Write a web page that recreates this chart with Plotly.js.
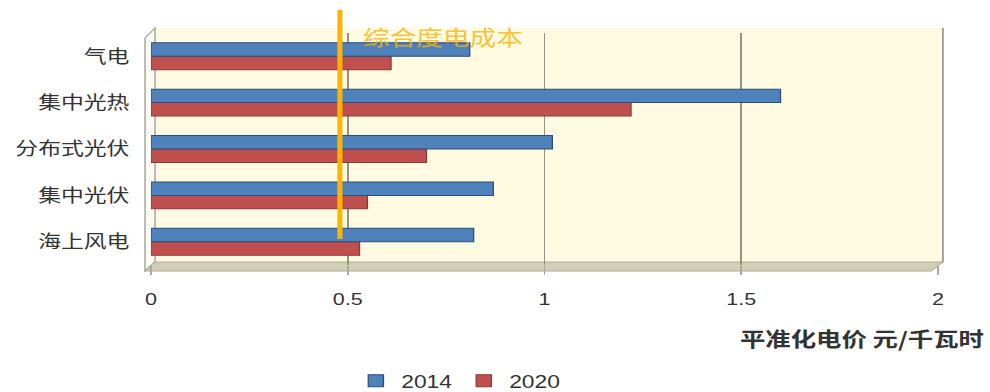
<!DOCTYPE html>
<html>
<head>
<meta charset="utf-8">
<script src="https://cdn.plot.ly/plotly-3.0.1.min.js"></script>
<style>
html,body{margin:0;padding:0;background:#fff;overflow:hidden;}
#wrap{width:990px;height:392px;overflow:hidden;}
#chart{width:780px;height:392px;transform:scaleX(1.2692);transform-origin:0 0;}
</style>
</head>
<body>
<div id="wrap"><div id="chart"></div></div>
<script>
const categories = ["海上风电", "集中光伏", "分布式光伏", "集中光热", "气电"];
const values2014 = [0.82, 0.87, 1.02, 1.60, 0.81];
const values2020 = [0.53, 0.55, 0.70, 1.22, 0.61];
const seriesNames = ["2014", "2020"];
const refCost = 0.48;
const refLabel = "综合度电成本";
const xTicks = [0, 0.5, 1, 1.5, 2];
const xTickLabels = ["0", "0.5", "1", "1.5", "2"];
const xTitle = "平准化电价 元/千瓦时";

const FONT = "Liberation Sans, Arial, Noto Sans CJK SC, sans-serif";
const CJK = "Noto Sans CJK SC, Liberation Sans, sans-serif";

// the reference picture is horizontally stretched; draw narrower and scale the whole chart in X
const S = 990 / 780;
// plot area in final-picture px, used to place decoration shapes in paper coords
const L = 151, R = 938, T = 33, B = 265;
const px = x => (x - L) / (R - L);
const py = y => (B - y) / (B - T);

const traces = [
  {
    type: "bar", orientation: "h", name: seriesNames[1],
    y: categories, x: values2020,
    marker: {color: "#c0504d", line: {color: "#8c3836", width: 1}},
    hoverinfo: "x+y+name"
  },
  {
    type: "bar", orientation: "h", name: seriesNames[0],
    y: categories, x: values2014,
    marker: {color: "#4f81bd", line: {color: "#2c4d75", width: 1}},
    hoverinfo: "x+y+name"
  }
];

const layout = {
  width: 780, height: 392,
  margin: {l: L / S, r: (990 - R) / S, t: T, b: 392 - B, autoexpand: false},
  paper_bgcolor: "#ffffff",
  plot_bgcolor: "rgba(0,0,0,0)",
  barmode: "group",
  bargap: 0.42,
  bargroupgap: 0,
  font: {family: FONT, size: 17, color: "#333333"},
  showlegend: true,
  legend: {
    orientation: "h", traceorder: "reversed",
    x: px(459), y: py(381), xanchor: "center", yanchor: "middle",
    font: {family: FONT, size: 18, color: "#333333"},
    itemwidth: 30, bgcolor: "rgba(0,0,0,0)"
  },
  xaxis: {
    range: [0, 2],
    tickvals: xTicks, ticktext: xTickLabels,
    showgrid: true, gridcolor: "#969280", gridwidth: 1.3,
    zeroline: false, showline: false,
    ticks: "outside", ticklen: 9, tickcolor: "#a8a8a8", tickwidth: 1.2,
    ticklabelstandoff: 10,
    tickfont: {family: FONT, size: 17, color: "#333333"},
    fixedrange: true
  },
  yaxis: {
    range: [-0.5, 4.5],
    type: "category",
    categoryorder: "array", categoryarray: categories,
    showgrid: false, zeroline: false, showline: false,
    ticks: "", ticklabelstandoff: 16,
    tickfont: {family: CJK, size: 18, color: "#333333"},
    fixedrange: true
  },
  shapes: [
    // back wall
    {type: "rect", xref: "paper", yref: "paper", layer: "below",
     x0: px(155), x1: px(943), y0: py(262), y1: py(28),
     fillcolor: "#fffbe3", line: {width: 0}},
    // left wall
    {type: "path", xref: "paper", yref: "paper", layer: "below",
     path: `M ${px(145)} ${py(38)} L ${px(155)} ${py(28)} L ${px(155)} ${py(262)} L ${px(145)} ${py(271)} Z`,
     fillcolor: "#fbfbf5", line: {color: "#a8a8a0", width: 1.2}},
    // floor
    {type: "path", xref: "paper", yref: "paper", layer: "below",
     path: `M ${px(145)} ${py(271)} L ${px(931)} ${py(271)} L ${px(943)} ${py(262)} L ${px(155)} ${py(262)} Z`,
     fillcolor: "#d3ceb6", line: {color: "#b0ab98", width: 1}},
    // right edge of back wall
    {type: "line", xref: "paper", yref: "paper", layer: "below",
     x0: px(943), x1: px(943), y0: py(262), y1: py(28),
     line: {color: "#969280", width: 1.3}},
    // reference cost line
    {type: "line", xref: "x", yref: "paper", layer: "above",
     x0: refCost, x1: refCost, y0: py(239), y1: py(10),
     line: {color: "#ffb400", width: 4}}
  ],
  annotations: [
    {xref: "paper", yref: "paper", x: px(361), y: py(36),
     xanchor: "left", yanchor: "middle", showarrow: false,
     text: refLabel,
     font: {family: CJK, size: 21, color: "rgba(245,180,0,0.8)"}},
    {xref: "paper", yref: "paper", x: px(986), y: py(338),
     xanchor: "right", yanchor: "middle", showarrow: false,
     text: "<b>" + xTitle + "</b>",
     font: {family: CJK, size: 20, color: "#333333"}}
  ]
};

Plotly.newPlot("chart", traces, layout, {displayModeBar: false, staticPlot: true});
</script>
</body>
</html>
